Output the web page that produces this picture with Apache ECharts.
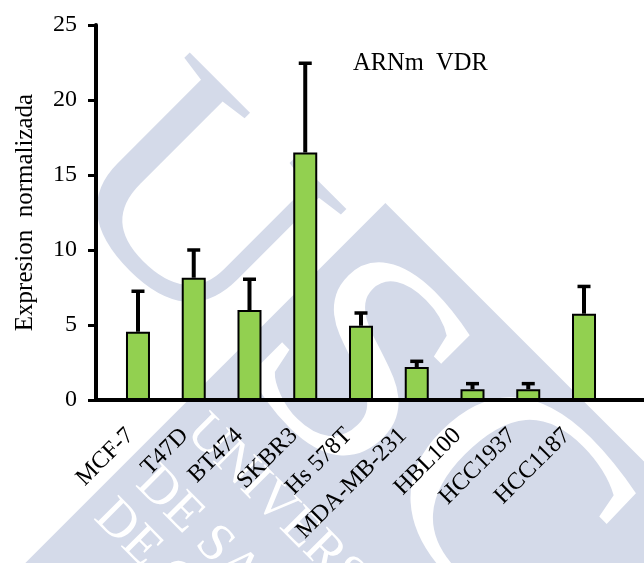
<!DOCTYPE html>
<html><head><meta charset="utf-8">
<script src="https://cdn.jsdelivr.net/npm/echarts@6/dist/echarts.min.js"></script>
<style>html,body{margin:0;padding:0;background:#fff}#c{width:644px;height:563px}</style>
</head><body><div id="c"></div>
<script>
const categories = ['MCF-7','T47D','BT474','SKBR3','Hs 578T','MDA-MB-231','HBL100','HCC1937','HCC1187'];
const values = [4.55, 8.15, 6.0, 16.5, 4.95, 2.2, 0.72, 0.72, 5.75];
const errors = [2.8, 1.95, 2.15, 6.05, 0.95, 0.48, 0.47, 0.47, 1.92];
const yTicks = [0, 5, 10, 15, 20, 25];
const chartTitle = 'ARNm  VDR';
const yTitle = 'Expresion  normalizada';
const watermarkRows = ['UNIVERSIDADE', 'DE SANTIAGO', 'DE COMPOSTELA'];

const FONT = 'Liberation Serif, Times New Roman, serif';
const WM = '#d4dae9';
const chart = echarts.init(document.getElementById('c'));
const barData = values.map((v, i) => [i, v]);
const errData = values.map((v, i) => [i, v, v + errors[i]]);

function bigLetter(ch, x, y, fill) {
  return { type: 'text', x: x, y: y, scaleX: 1.1, silent: true,
    style: { text: ch, font: '296px "Liberation Serif"', fill: fill,
      textAlign: 'center', textVerticalAlign: 'middle' } };
}
function row(t, x, y) {
  return { type: 'text', x: x, y: y, silent: true,
    style: { text: t, font: '53px "Liberation Serif"', fill: '#fff',
      textAlign: 'left', textVerticalAlign: 'middle' } };
}

chart.setOption({
  animation: false,
  backgroundColor: '#fff',
  graphic: {
    elements: [{
      type: 'group', x: 0, y: 0, rotation: -Math.PI / 4, silent: true, z: -100,
      children: [
        { type: 'rect', shape: { x: 416, y: -129, width: 900, height: 900 }, style: { fill: WM } },
        bigLetter('U', 282, 19, WM),
        bigLetter('S', 510, 17, '#fff'),
        bigLetter('C', 712, 10, '#fff'),
        row(watermarkRows[0], 437, 162),
        row(watermarkRows[1], 438, 234),
        row(watermarkRows[2], 432, 287)
      ]
    }]
  },
  title: {
    text: chartTitle, left: 348, top: 46,
    textStyle: { fontFamily: FONT, fontSize: 24.5, fontWeight: 'normal', color: '#000' }
  },
  grid: [
    { left: 96, right: 0, top: 25, bottom: 163 },
    { left: 103, right: 50, top: 25, bottom: 163 }
  ],
  xAxis: [
    {
      type: 'value', gridIndex: 0, min: -0.753, max: 9.076,
      axisLine: { show: true, onZero: false, lineStyle: { color: '#000', width: 4 } },
      axisTick: { show: false }, axisLabel: { show: false }, splitLine: { show: false }
    },
    {
      type: 'category', gridIndex: 1, data: categories,
      axisLine: { show: false }, axisTick: { show: false }, splitLine: { show: false },
      axisLabel: {
        interval: 0, rotate: 45, margin: 32,
        fontFamily: FONT, fontSize: 24, color: '#000'
      }
    }
  ],
  yAxis: [
    {
      type: 'value', gridIndex: 0, min: yTicks[0], max: yTicks[yTicks.length - 1], interval: 5,
      name: yTitle, nameLocation: 'middle', nameGap: 58, nameRotate: 90,
      nameTextStyle: { fontFamily: FONT, fontSize: 25, color: '#000' },
      axisLine: { show: true, onZero: false, lineStyle: { color: '#000', width: 4 } },
      axisTick: { show: true, inside: false, length: 8, lineStyle: { color: '#000', width: 3 } },
      axisLabel: { margin: 19, fontFamily: FONT, fontSize: 24, color: '#000', padding: [0, 0, 8, 0] },
      splitLine: { show: false }
    },
    { type: 'value', gridIndex: 1, show: false, min: 0, max: 25 }
  ],
  series: [
    {
      type: 'bar', xAxisIndex: 0, yAxisIndex: 0, data: barData, barWidth: 24,
      itemStyle: { color: '#92d050', borderColor: '#000', borderWidth: 2 },
      z: 3
    },
    {
      type: 'custom', xAxisIndex: 0, yAxisIndex: 0, data: errData, z: 2,
      renderItem: function (params, api) {
        const base = api.coord([api.value(0), api.value(1)]);
        const top = api.coord([api.value(0), api.value(2)]);
        const half = 6.5;
        return {
          type: 'group',
          children: [
            { type: 'line', shape: { x1: base[0], y1: base[1], x2: top[0], y2: top[1] + 1.5 },
              style: { stroke: '#000', lineWidth: 4 } },
            { type: 'line', shape: { x1: top[0] - half, y1: top[1] + 1.5, x2: top[0] + half, y2: top[1] + 1.5 },
              style: { stroke: '#000', lineWidth: 3.5 } }
          ]
        };
      }
    }
  ]
});
</script></body></html>
